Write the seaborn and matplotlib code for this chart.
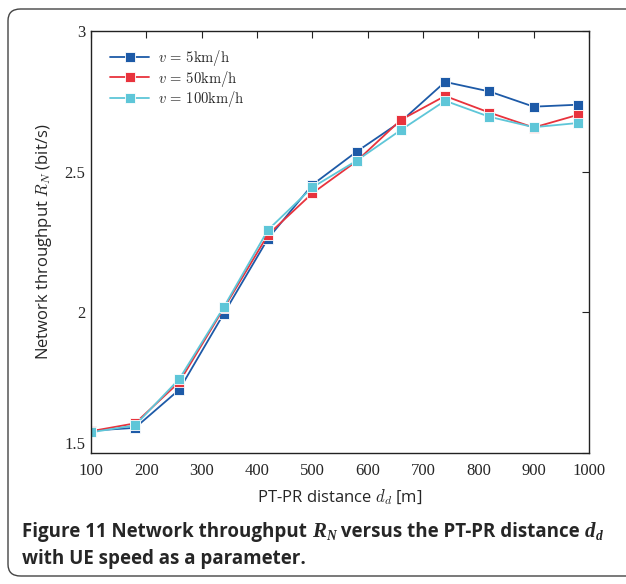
import matplotlib
matplotlib.use("Agg")
import matplotlib.pyplot as plt
import seaborn as sns
import pandas as pd
from matplotlib.patches import FancyBboxPatch

distance = [100, 180, 260, 340, 420, 500, 580, 660, 740, 820, 900, 980]
v5 = [1.580, 1.590, 1.726, 1.995, 2.262, 2.453, 2.571, 2.678, 2.819, 2.785, 2.731, 2.738]
v50 = [1.578, 1.606, 1.753, 2.014, 2.276, 2.423, 2.537, 2.684, 2.769, 2.710, 2.657, 2.702]
v100 = [1.574, 1.599, 1.764, 2.018, 2.293, 2.444, 2.539, 2.648, 2.752, 2.695, 2.658, 2.673]
series_labels = [r"$v\,=\,5\mathrm{km/h}$", r"$v\,=\,50\mathrm{km/h}$", r"$v\,=\,100\mathrm{km/h}$"]
colors = ["#1d5aa7", "#e8333d", "#5ec6d8"]
xticks = [100, 200, 300, 400, 500, 600, 700, 800, 900, 1000]
yticks = [1.5, 2, 2.5, 3]

df = pd.DataFrame({
    "d": distance * 3,
    "R": v5 + v50 + v100,
    "s": [series_labels[0]] * len(distance) + [series_labels[1]] * len(distance) + [series_labels[2]] * len(distance),
})

sns.set_theme(style="white")
plt.rcParams["mathtext.fontset"] = "cm"

fig = plt.figure(figsize=(6.26, 5.84), dpi=100)
ax = fig.add_axes([0.145, 0.224, 0.796, 0.723])

sns.lineplot(data=df, x="d", y="R", hue="s", hue_order=series_labels, palette=colors,
             marker="s", markersize=6.5, markeredgewidth=0.6, linewidth=1.3, ax=ax, sort=False)

ax.set_xlim(100, 1000)
ax.set_ylim(1.5, 3)
ax.set_xticks(xticks)
ax.set_yticks(yticks)
ax.set_xticklabels([str(t) for t in xticks], family="Liberation Serif", fontsize=12)
ax.set_yticklabels(["1.5", "2", "2.5", "3"], family="Liberation Serif", fontsize=12)
ax.tick_params(direction="in", length=5, width=0.8, top=True, right=True, color="#222222")
ax.tick_params(axis="x", pad=7)
ax.tick_params(axis="y", pad=4)
ylabs = ax.get_yticklabels()
ylabs[0].set_va("bottom")
for sp in ax.spines.values():
    sp.set_color("#222222")
    sp.set_linewidth(1.0)

ax.set_xlabel(r"PT-PR distance $d_d$ [m]", fontsize=12, family="Open Sans", labelpad=6)
ax.set_ylabel(r"Network throughput $R_N$ (bit/s)", fontsize=12, family="Open Sans", labelpad=7)

leg = ax.legend(loc="upper left", frameon=False, fontsize=10.5, handlelength=2.7,
                borderaxespad=0.5, labelspacing=0.02, handletextpad=0.6,
                bbox_to_anchor=(0.012, 0.99))

# caption, built from pieces so the symbols are bold-italic serif
cap_size = 13.5
sans = dict(fontsize=cap_size, fontweight="bold", family="Open Sans")
serif = dict(fontsize=cap_size + 1.5, fontweight="bold", style="italic", family="Liberation Serif")
sub = dict(fontsize=cap_size * 0.72, fontweight="bold", style="italic", family="Liberation Serif")

fig.canvas.draw()
renderer = fig.canvas.get_renderer()
W, H = fig.bbox.width, fig.bbox.height
x_px = 0.035 * W
base_px = (1 - 537 / 584) * H
pieces = [("Figure 11 Network throughput ", sans, 0), ("R", serif, 0), ("N", sub, -3),
          (" versus the PT-PR distance ", sans, 0), ("d", serif, 0), ("d", sub, -3)]
for txt, props, dy in pieces:
    tt = fig.text(x_px / W, (base_px + dy) / H, txt, va="baseline", ha="left", **props)
    bb = tt.get_window_extent(renderer)
    x_px = bb.x1 + (1 if props is serif else 0)
fig.text(0.035, (1 - 564 / 584), "with UE speed as a parameter.", va="baseline", ha="left", **sans)

box = FancyBboxPatch((8 / 626, 8 / 584), 640 / 626, 567 / 584,
                     boxstyle="round,pad=0,rounding_size=0.02",
                     transform=fig.transFigure, fill=False, edgecolor="#444444", linewidth=1.0,
                     clip_on=False)
fig.patches.append(box)

fig.savefig("out.png", dpi=100)
